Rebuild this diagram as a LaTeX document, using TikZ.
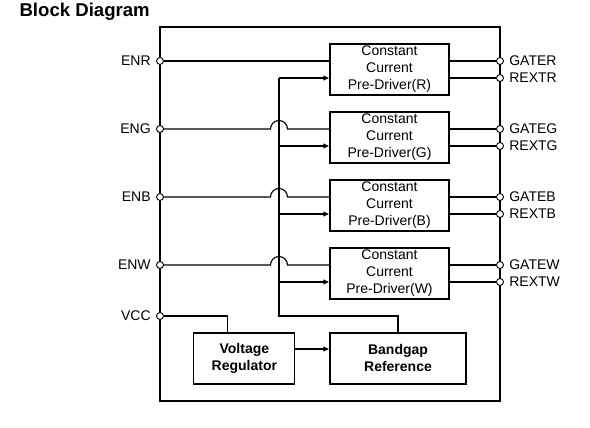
\documentclass[tikz,border=0pt]{standalone}
\usepackage{fontspec}
\setmainfont{Liberation Sans}
\usetikzlibrary{positioning,arrows.meta}

\begin{document}
\begin{tikzpicture}[x=1pt,y=1pt,>={Latex[length=6pt,width=5.5pt]},line width=1.1pt,
  every node/.style={font=\fontsize{14}{17}\selectfont},
  drvbox/.style={draw,minimum width=119pt,minimum height=51pt,inner sep=0pt,align=center},
  blkbox/.style={draw,minimum height=51pt,inner sep=0pt,align=center,
    font=\fontsize{14}{17}\selectfont\bfseries},
  port/.style={circle,draw,fill=white,inner sep=0pt,minimum size=7pt,line width=0.9pt}]
  \useasboundingbox (0,0) rectangle (590,428);
  \node[anchor=west,inner sep=0pt,font=\fontsize{18.6}{20}\selectfont\bfseries] (title) at (19,416) {Block Diagram};
% chip outline
  \draw[line width=1.3pt] (160,27) rectangle (500,401);
% pre-drivers, one per colour
  \foreach \ch [count=\i] in {R,G,B,W} {
    \pgfmathsetmacro\yc{358.5-68*(\i-1)}
    \node[drvbox] (drv\ch) at (389.5,\yc) {Constant\\Current\\Pre-Driver(\ch)};
    \node[port,label={[label distance=1.5pt]left:EN\ch}] (en\ch) at (160,\yc+8.5) {};
    \node[port,label={[label distance=1.5pt]right:GATE\ch}] (gate\ch) at (500,\yc+8.5) {};
    \node[port,label={[label distance=1.5pt]right:REXT\ch}] (rext\ch) at (500,\yc-8.5) {};
    \coordinate (bus\ch) at (279,\yc-8.5);
    \coordinate (jmp\ch) at (279,\yc+8.5);
    \draw (drv\ch.east|-gate\ch) -- (gate\ch);
    \draw (drv\ch.east|-rext\ch) -- (rext\ch);
    \draw[->] (bus\ch) -- (bus\ch-|drv\ch.west);
    \ifnum\i=1
      \draw (en\ch) -- (en\ch-|drv\ch.west);
    \else
      \draw (en\ch) -- ([xshift=-8.5pt]jmp\ch) arc[start angle=180,end angle=0,radius=8.5]
        -- (en\ch-|drv\ch.west);
    \fi
  }
% supply and reference
  \node[blkbox,minimum width=136pt] (bg) at (398,69.5) {Bandgap\\Reference};
  \node[blkbox,minimum width=101pt,left=34pt of bg] (vr) {Voltage\\Regulator};
  \node[port,label={[label distance=1.5pt]left:VCC}] (vcc) at (160,112) {};
  \coordinate (busbot) at (279,112);
  \draw (vcc) -| ([xshift=-17pt]vr.north);
  \draw[->] ([yshift=9.5pt]vr.east) -- ([yshift=9.5pt]bg.west);
  \draw (busR) -- (busbot) -| (bg.north);
\end{tikzpicture}
\end{document}
